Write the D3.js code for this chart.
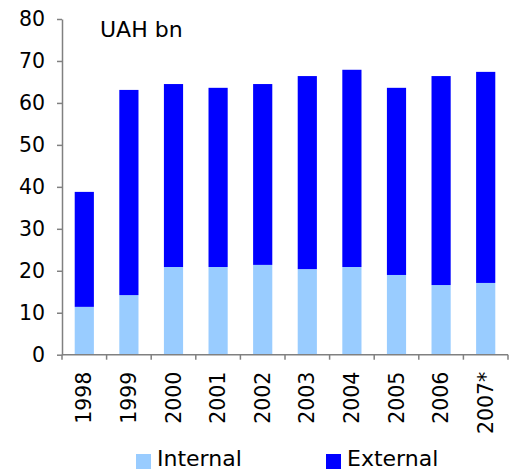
<!DOCTYPE html>
<html>
<head>
<meta charset="utf-8">
<script src="https://cdn.jsdelivr.net/npm/d3@7"></script>
<style>
  body { margin: 0; background: #fff; }
  svg { display: block; font-family: "DejaVu Sans", Verdana, sans-serif; }
</style>
</head>
<body>
<svg id="chart" width="515" height="470"></svg>
<script>
const categories = ["1998", "1999", "2000", "2001", "2002", "2003", "2004", "2005", "2006", "2007*"];
const internal = [11.4, 14.2, 20.9, 20.9, 21.4, 20.4, 20.9, 19.0, 16.6, 17.1];
const external = [27.4, 48.9, 43.6, 42.7, 43.1, 46.0, 47.0, 44.6, 49.8, 50.3];
const yTicks = [0, 10, 20, 30, 40, 50, 60, 70, 80];
const seriesNames = ["Internal", "External"];
const colors = ["#99CCFF", "#0000FF"];

(function () {
const svg = d3.select("#chart");
const mLeft = 62, mRight = 508, mTop = 19, mBottom = 354.7;

const x = d3.scaleBand().domain(categories).range([mLeft, mRight]).paddingInner(0.57).paddingOuter(0.285);
const y = d3.scaleLinear().domain([0, 80]).range([mBottom, mTop]);

const rows = categories.map((c, i) => ({ cat: c, Internal: internal[i], External: external[i] }));
const stack = d3.stack().keys(seriesNames)(rows);

svg.append("g").selectAll("g").data(stack).join("g")
  .attr("fill", (d, i) => colors[i])
  .selectAll("rect").data(d => d).join("rect")
  .attr("x", d => x(d.data.cat))
  .attr("width", x.bandwidth())
  .attr("y", d => y(d[1]))
  .attr("height", d => y(d[0]) - y(d[1]));

// y axis
const yAxis = svg.append("g").attr("transform", `translate(${mLeft},0)`)
  .call(d3.axisLeft(y).tickValues(yTicks).tickSize(5).tickPadding(12).tickSizeOuter(0));
yAxis.select(".domain").attr("stroke", "#808080").attr("stroke-width", 1.5);
yAxis.selectAll(".tick line").attr("stroke", "#808080").attr("stroke-width", 1.5);
yAxis.selectAll(".tick text").attr("font-size", 20.5).attr("fill", "#000")
  .attr("font-family", "DejaVu Sans, Verdana, sans-serif");

// x axis line and ticks at band boundaries
const xg = svg.append("g");
xg.append("line").attr("x1", mLeft).attr("x2", mRight).attr("y1", mBottom).attr("y2", mBottom)
  .attr("stroke", "#808080").attr("stroke-width", 1.5);
const bounds = d3.range(categories.length + 1).map(i => mLeft + i * x.step());
xg.selectAll("line.tk").data(bounds).join("line").attr("class", "tk")
  .attr("x1", d => d).attr("x2", d => d).attr("y1", mBottom).attr("y2", mBottom + 5)
  .attr("stroke", "#808080").attr("stroke-width", 1.5);
xg.selectAll("text").data(categories).join("text")
  .attr("transform", d => `translate(${x(d) + x.bandwidth() / 2 + 7},${mBottom + 17}) rotate(-90)`)
  .attr("text-anchor", "end")
  .attr("font-size", 20.5)
  .attr("fill", "#000")
  .text(d => d);

// unit label
svg.append("text").attr("x", 100).attr("y", 37).attr("font-size", 22).attr("fill", "#000").text("UAH bn");

// legend
const legendX = [136, 326];
const lg = svg.append("g");
seriesNames.forEach((s, i) => {
  lg.append("rect").attr("x", legendX[i]).attr("y", 454).attr("width", 15).attr("height", 15).attr("fill", colors[i]);
  lg.append("text").attr("x", legendX[i] + 21).attr("y", 466).attr("font-size", 22).attr("fill", "#000").text(s);
});
})();
</script>
</body>
</html>
